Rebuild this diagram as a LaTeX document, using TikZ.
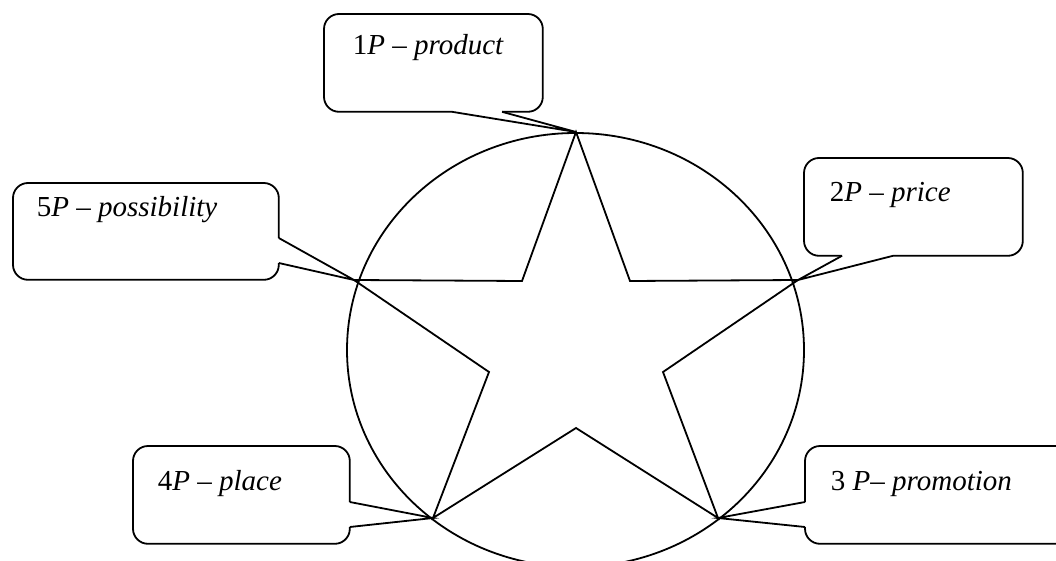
\documentclass[tikz,border=0pt]{standalone}
\usepackage{fontspec}
\setmainfont{Liberation Serif}
\usetikzlibrary{positioning}

\tikzset{
  box/.style={minimum width=217, minimum height=96, inner sep=0, anchor=north west},
  bubble/.style={rounded corners=15},
  tag/.style={anchor=base west, inner sep=0, font=\fontsize{29}{34}\selectfont},
}

\begin{document}
\begin{tikzpicture}[x=1pt, y=-1pt, line width=1.8]
\useasboundingbox (0,0) rectangle (1056,561);
\clip (0,0) rectangle (1056,561);
% the star and its ring
\coordinate (top) at (576,132);   \coordinate (in1) at (630,281);
\coordinate (right) at (798,280); \coordinate (in2) at (663,372);
\coordinate (botr) at (718,518);  \coordinate (in3) at (576,428);
\coordinate (botl) at (433,518);  \coordinate (in4) at (489,372);
\coordinate (left) at (354,280);  \coordinate (in5) at (522,281);
\draw (575.5,350) ellipse [x radius=228.5, y radius=217];
\draw (top) -- (in1) -- (right) -- (in2) -- (botr) -- (in3) -- (botl) -- (in4) -- (left) -- (in5) -- cycle;
% callouts
\node[box] (prod) at (324,14) {};
\node[box] (price) at (804,158) {};
\node[box, minimum width=270] (promo) at (805,446) {};
\node[box, minimum width=215] (place) at (133,446) {};
\node[box, minimum width=264, minimum height=95] (poss) at (13,183) {};
\draw[bubble] ([xshift=178]prod.south west) -- (prod.south east) -- (prod.north east) -- (prod.north west) -- (prod.south west) -- ([xshift=128]prod.south west);
\draw ([xshift=128]prod.south west) -- (top) -- ([xshift=178]prod.south west);
\draw[bubble] ([xshift=89]price.south west) -- (price.south east) -- (price.north east) -- (price.north west) -- (price.south west) -- ([xshift=38]price.south west);
\draw ([xshift=38]price.south west) -- (right) -- ([xshift=89]price.south west);
\draw[bubble] ([yshift=-56]promo.north west) -- (promo.north west) -- (promo.north east) -- (promo.south east) -- (promo.south west) -- ([yshift=-81]promo.north west);
\draw ([yshift=-56]promo.north west) -- (botr) -- ([yshift=-81]promo.north west);
\draw[bubble] ([yshift=-81]place.north east) -- (place.south east) -- (place.south west) -- (place.north west) -- (place.north east) -- ([yshift=-56]place.north east);
\draw ([yshift=-56]place.north east) -- (botl) -- ([yshift=-81]place.north east);
\draw[bubble] ([yshift=-80]poss.north east) -- (poss.south east) -- (poss.south west) -- (poss.north west) -- (poss.north east) -- ([yshift=-55]poss.north east);
\draw ([yshift=-55]poss.north east) -- (left) -- ([yshift=-80]poss.north east);
\node[tag] (prodt) at (352,55) {1\textit{P} – \textit{product}};
\node[tag] (pricet) at (829,202) {2\textit{P} – \textit{price}};
\node[tag] (promot) at (830,490) {3 \textit{P}– \textit{promotion}};
\node[tag] (placet) at (157,490) {4\textit{P} – \textit{place}};
\node[tag] (posst) at (36,217) {5\textit{P} – \textit{possibility}};
\end{tikzpicture}
\end{document}
